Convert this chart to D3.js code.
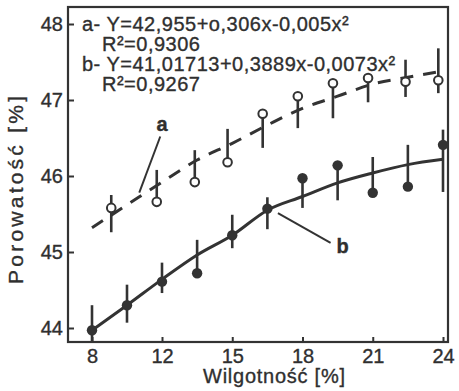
<!DOCTYPE html>
<html>
<head>
<meta charset="utf-8">
<script src="https://cdn.jsdelivr.net/npm/d3@7"></script>
<style>
  body { margin: 0; background: #fff; }
  svg text { font-family: "Liberation Sans", Arial, sans-serif; fill: #2f2f2f; stroke: #2f2f2f; stroke-width: 0.35px; }
</style>
</head>
<body>
<div id="chart"></div>
<script>
// dane
const moistB = [8, 10, 12, 13.5, 15, 16.5, 18, 19.5, 21, 22.5, 24];
const poroB  = [43.97, 44.30, 44.61, 44.72, 45.22, 45.57, 45.97, 46.14, 45.78, 45.86, 46.41];
const hiB    = [44.30, 44.57, 44.86, 45.16, 45.49, 45.72, 45.97, 46.14, 46.25, 46.41, 46.61];
const loB    = [43.82, 44.07, 44.46, 44.76, 45.05, 45.30, 45.58, 45.68, 45.78, 45.86, 45.79];
const fitB   = [43.97, 44.30, 44.64, 44.96, 45.22, 45.55, 45.73, 45.91, 46.04, 46.15, 46.22];

const moistA = [9.1, 11.7, 13.4, 14.8, 16.3, 17.8, 19.3, 20.8, 22.4, 23.8];
const poroA  = [45.58, 45.66, 45.92, 46.18, 46.82, 47.05, 47.22, 47.29, 47.24, 47.26];
const hiA    = [45.75, 46.08, 46.34, 46.62, 46.82, 47.05, 47.22, 47.29, 47.53, 47.68];
const loA    = [45.26, 45.66, 45.92, 46.18, 46.37, 46.63, 46.76, 46.97, 47.04, 47.09];
const fitA   = [45.32, 45.62, 45.92, 46.21, 46.43, 46.67, 46.89, 47.05, 47.21, 47.30, 47.38];

const xTicks = [8, 12, 15, 18, 21, 24];
const yTicks = [44, 45, 46, 47, 48];

const legend = [
    "a- Y=42,955+o,306x-0,005x²",
    "R²=0,9306",
    "b- Y=41,01713+0,3889x-0,0073x²",
    "R²=0,9267"
];

const width = 459, height = 391;
const box = { left: 68, right: 448, top: 7, bottom: 342 };
const ink = "#333";

const svg = d3.select("#chart").append("svg")
    .attr("width", width)
    .attr("height", height);

// os X nie jest liniowa (8 -> 12 ma ten sam odstep co 12 -> 15)
const x = d3.scaleLinear()
    .domain([8, 12, 24])
    .range([92, 162, 443]);

const y = d3.scaleLinear()
    .domain([44, 48])
    .range([328, 24]);

// ramka
svg.append("rect")
    .attr("x", box.left)
    .attr("y", box.top)
    .attr("width", box.right - box.left)
    .attr("height", box.bottom - box.top)
    .attr("fill", "none")
    .attr("stroke", ink)
    .attr("stroke-width", 2.2);

// osie - kreski do srodka
const yAxis = svg.append("g")
    .attr("transform", `translate(${box.left},0)`)
    .call(d3.axisLeft(y).tickValues(yTicks).tickSize(-6).tickPadding(5).tickFormat(d3.format("d")));
yAxis.select(".domain").remove();
yAxis.selectAll("line").attr("stroke", ink).attr("stroke-width", 2);
yAxis.selectAll("text")
    .style("font-size", "20px")
    .style("font-family", "Liberation Sans, Arial, sans-serif")
    .attr("fill", "#2f2f2f");

const xAxis = svg.append("g")
    .attr("transform", `translate(0,${box.bottom})`)
    .call(d3.axisBottom(x).tickValues(xTicks).tickSize(-5).tickPadding(7).tickFormat(d3.format("d")));
xAxis.select(".domain").remove();
xAxis.selectAll("line").attr("stroke", ink).attr("stroke-width", 2);
xAxis.selectAll("text")
    .style("font-size", "20px")
    .style("font-family", "Liberation Sans, Arial, sans-serif")
    .attr("fill", "#2f2f2f");

// tytuly osi
svg.append("text")
    .attr("x", (box.left + box.right) / 2 + 16)
    .attr("y", 383)
    .attr("text-anchor", "middle")
    .attr("textLength", 142)
    .attr("lengthAdjust", "spacing")
    .style("font-size", "20px")
    .text("Wilgotność [%]");

svg.append("text")
    .attr("transform", "translate(23,190) rotate(-90)")
    .attr("text-anchor", "middle")
    .attr("textLength", 188)
    .attr("lengthAdjust", "spacing")
    .style("font-size", "21px")
    .text("Porowatość [%]");

// krzywe regresji
const fitLine = d3.line()
    .x((d, i) => x(moistB[i]))
    .y(d => y(d))
    .curve(d3.curveMonotoneX);

svg.append("path")
    .datum(fitA)
    .attr("d", fitLine)
    .attr("fill", "none")
    .attr("stroke", ink)
    .attr("stroke-width", 3)
    .attr("stroke-dasharray", "13,10");

svg.append("path")
    .datum(fitB)
    .attr("d", fitLine)
    .attr("fill", "none")
    .attr("stroke", ink)
    .attr("stroke-width", 3);

// slupki bledow
svg.selectAll(".barB")
    .data(moistB)
    .enter()
    .append("line")
    .attr("x1", d => x(d))
    .attr("x2", d => x(d))
    .attr("y1", (d, i) => y(hiB[i]))
    .attr("y2", (d, i) => y(loB[i]))
    .attr("stroke", ink)
    .attr("stroke-width", 2.6);

svg.selectAll(".barA")
    .data(moistA)
    .enter()
    .append("line")
    .attr("x1", d => x(d))
    .attr("x2", d => x(d))
    .attr("y1", (d, i) => y(hiA[i]))
    .attr("y2", (d, i) => y(loA[i]))
    .attr("stroke", ink)
    .attr("stroke-width", 2.6);

// punkty
svg.selectAll(".dotB")
    .data(moistB)
    .enter()
    .append("circle")
    .attr("cx", d => x(d))
    .attr("cy", (d, i) => y(poroB[i]))
    .attr("r", 5.2)
    .attr("fill", ink);

svg.selectAll(".dotA")
    .data(moistA)
    .enter()
    .append("circle")
    .attr("cx", d => x(d))
    .attr("cy", (d, i) => y(poroA[i]))
    .attr("r", 4.3)
    .attr("fill", "#fff")
    .attr("stroke", ink)
    .attr("stroke-width", 2);

// odnosniki a i b
const notes = [
    { label: "a", from: [11.9, 46.52], to: [10.7, 45.78], at: [12.0, 46.59], anchor: "middle" },
    { label: "b", from: [16.95, 45.51], to: [19.2, 45.12], at: [19.45, 44.99], anchor: "start" }
];

notes.forEach(n => {
    svg.append("line")
        .attr("x1", x(n.from[0]))
        .attr("y1", y(n.from[1]))
        .attr("x2", x(n.to[0]))
        .attr("y2", y(n.to[1]))
        .attr("stroke", ink)
        .attr("stroke-width", 2);
    svg.append("text")
        .attr("x", x(n.at[0]))
        .attr("y", y(n.at[1]))
        .attr("text-anchor", n.anchor)
        .style("font-size", "20px")
        .style("font-weight", "bold")
        .text(n.label);
});

// rownania - jeden blok tekstu
const legendPos = [[82, 31], [102, 51], [82, 71], [102, 91]];
svg.append("text")
    .style("font-size", "20px")
    .style("letter-spacing", "0.5px")
    .selectAll("tspan")
    .data(legend)
    .enter()
    .append("tspan")
    .attr("x", (d, i) => legendPos[i][0])
    .attr("y", (d, i) => legendPos[i][1])
    .text(d => d);
</script>
</body>
</html>
